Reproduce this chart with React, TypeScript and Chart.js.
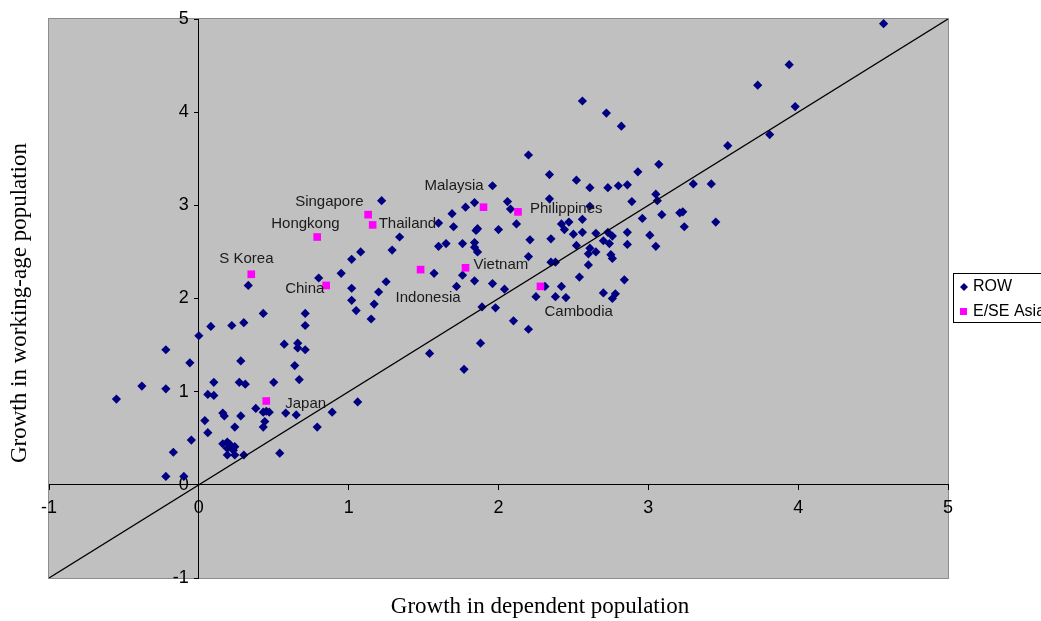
import React, { useEffect, useRef } from "react";
import { Chart, registerables } from "chart.js";

Chart.register(...registerables);

// ---- Data ----
const rowX = [
  -0.55, -0.38, -0.22, -0.22, -0.06, 0.0, -0.22, -0.1, -0.17, -0.05,
  0.08, 0.22, 0.3, 0.43, 0.71, 0.71, 0.33, 0.28, 0.57, 0.66,
  0.66, 0.71, 0.64, 0.67, 0.1, 0.27, 0.31, 0.5, 0.06, 0.1,
  0.38, 0.43, 0.45, 0.47, 0.58, 0.65, 0.89, 0.16, 0.17, 0.28,
  0.04, 0.44, 0.43, 0.24, 0.79, 0.06, 0.16, 0.19, 0.21, 0.24,
  0.19, 0.23, 0.19, 0.24, 0.3, 0.54, 1.22, 1.34, 1.6, 1.69,
  1.78, 1.84, 1.7, 1.86, 1.85, 1.29, 1.08, 1.02, 1.6, 1.65,
  1.76, 1.84, 1.84, 1.86, 1.57, 1.76, 1.84, 1.72, 0.95, 0.8,
  1.02, 1.25, 1.2, 1.02, 1.17, 1.05, 1.15, 1.89, 1.88, 1.54,
  1.77, 1.06, 2.2, 2.34, 2.52, 2.93, 3.07, 2.61, 2.73, 2.8,
  2.86, 1.96, 2.34, 2.89, 3.05, 3.06, 2.06, 2.08, 2.12, 2.0,
  2.42, 2.47, 2.44, 2.56, 2.96, 3.09, 2.5, 2.56, 2.65, 2.73,
  2.76, 2.86, 3.01, 2.21, 2.35, 2.52, 2.7, 2.74, 2.86, 3.05,
  2.61, 2.65, 2.6, 2.75, 2.76, 2.2, 2.35, 2.38, 2.6, 1.96,
  2.04, 1.98, 2.31, 2.42, 2.25, 2.38, 2.45, 2.54, 2.7, 2.78,
  2.76, 2.84, 2.1, 2.2, 2.56, 2.72, 2.82, 3.73, 3.94, 3.98,
  3.81, 3.53, 3.3, 3.42, 3.21, 3.23, 3.24, 3.45, 2.61, 4.57,
];
const rowY = [
  0.92, 1.06, 1.03, 1.45, 1.31, 1.6, 0.09, 0.09, 0.35, 0.48,
  1.7, 1.71, 1.74, 1.84, 1.84, 1.71, 2.14, 1.33, 1.51, 1.52,
  1.47, 1.45, 1.28, 1.13, 1.1, 1.1, 1.08, 1.1, 0.97, 0.96,
  0.82, 0.78, 0.79, 0.78, 0.77, 0.75, 0.78, 0.77, 0.74, 0.74,
  0.69, 0.68, 0.62, 0.62, 0.62, 0.56, 0.44, 0.46, 0.43, 0.41,
  0.39, 0.37, 0.32, 0.32, 0.32, 0.34, 3.05, 2.66, 2.81, 2.91,
  2.98, 3.03, 2.77, 2.75, 2.73, 2.52, 2.5, 2.42, 2.56, 2.59,
  2.59, 2.6, 2.55, 2.5, 2.27, 2.25, 2.19, 2.13, 2.27, 2.22,
  2.11, 2.18, 2.07, 1.98, 1.94, 1.87, 1.78, 1.91, 1.52, 1.41,
  1.24, 0.89, 3.54, 3.33, 3.27, 3.36, 3.44, 3.19, 3.19, 3.21,
  3.22, 3.21, 3.07, 3.04, 3.12, 3.05, 3.04, 2.96, 2.8, 2.74,
  2.8, 2.82, 2.74, 2.85, 2.86, 2.9, 2.69, 2.71, 2.7, 2.71,
  2.67, 2.71, 2.68, 2.63, 2.64, 2.57, 2.62, 2.59, 2.58, 2.56,
  2.54, 2.5, 2.48, 2.47, 2.43, 2.45, 2.39, 2.39, 2.36, 2.16,
  2.1, 1.9, 2.13, 2.13, 2.02, 2.02, 2.01, 2.23, 2.06, 2.05,
  2.0, 2.2, 1.76, 1.67, 4.12, 3.99, 3.85, 4.29, 4.51, 4.06,
  3.76, 3.64, 3.23, 3.23, 2.92, 2.93, 2.77, 2.82, 2.99, 4.95,
];

const asiaNames = [
  "Singapore", "Thailand", "Hongkong", "S Korea", "China", "Indonesia",
  "Vietnam", "Malaysia", "Philippines", "Cambodia", "Japan",
];
const asiaX = [1.13, 1.16, 0.79, 0.35, 0.85, 1.48, 1.78, 1.9, 2.13, 2.28, 0.45];
const asiaY = [2.9, 2.79, 2.66, 2.26, 2.14, 2.31, 2.33, 2.98, 2.93, 2.13, 0.9];

const diagonalX = [-1, 5];
const axisMin = -1;
const axisMax = 5;

const seriesNames = ["ROW", "E/SE Asia"];
const xTitle = "Growth in dependent population";
const yTitle = "Growth in working-age population";

// label offsets (px) from each E/SE Asia marker: [dx to text left, dy to text middle]
const labelOffsets: Record<string, [number, number]> = {
  Singapore: [-73, -13],
  Thailand: [6, -1],
  Hongkong: [-46, -13],
  "S Korea": [-32, -15],
  China: [-41, 3],
  Indonesia: [-25, 28],
  Vietnam: [8, -3],
  Malaysia: [-59, -21],
  Philippines: [12, -3],
  Cambodia: [4, 25],
  Japan: [19, 3],
};

const NAVY = "#000080";
const MAGENTA = "#ff00ff";
const SANS = '"Liberation Sans", Arial, sans-serif';
const SERIF = '"Liberation Serif", "Times New Roman", serif';

export default function App() {
  const canvasRef = useRef<HTMLCanvasElement | null>(null);

  useEffect(() => {
    const canvas = canvasRef.current;
    if (!canvas) return;

    const plotBackground = {
      id: "plotBackground",
      beforeDraw(chart: any) {
        const { ctx, chartArea } = chart;
        const { left, top, right, bottom } = chartArea;
        ctx.save();
        ctx.fillStyle = "#c0c0c0";
        ctx.fillRect(left, top, right - left, bottom - top);
        ctx.strokeStyle = "#8c8c8c";
        ctx.lineWidth = 1;
        ctx.strokeRect(left - 0.5, top - 0.5, right - left + 1, bottom - top + 1);
        ctx.restore();
      },
    };

    const annotations = {
      id: "annotations",
      afterDatasetsDraw(chart: any) {
        const { ctx, scales } = chart;
        ctx.save();
        ctx.font = `15px ${SANS}`;
        ctx.fillStyle = "#1a1a1a";
        ctx.textAlign = "left";
        ctx.textBaseline = "middle";
        asiaNames.forEach((name, i) => {
          const px = scales.x.getPixelForValue(asiaX[i]);
          const py = scales.y.getPixelForValue(asiaY[i]);
          const [dx, dy] = labelOffsets[name] || [6, 0];
          ctx.fillText(name, px + dx, py + dy);
        });
        ctx.restore();
      },
      afterDraw(chart: any) {
        const { ctx } = chart;
        ctx.save();
        // axis titles
        ctx.fillStyle = "#000";
        ctx.font = `23px ${SERIF}`;
        ctx.textAlign = "center";
        ctx.textBaseline = "middle";
        ctx.fillText(xTitle, 540, 607);
        ctx.translate(20, 303);
        ctx.rotate(-Math.PI / 2);
        ctx.fillText(yTitle, 0, 0);
        ctx.restore();

        // legend
        ctx.save();
        ctx.fillStyle = "#ffffff";
        ctx.fillRect(953.5, 273.5, 200, 49);
        ctx.strokeStyle = "#000";
        ctx.lineWidth = 1;
        ctx.strokeRect(953.5, 273.5, 200, 49);
        // diamond
        ctx.fillStyle = NAVY;
        ctx.beginPath();
        ctx.moveTo(964, 283);
        ctx.lineTo(968, 287);
        ctx.lineTo(964, 291);
        ctx.lineTo(960, 287);
        ctx.closePath();
        ctx.fill();
        // square
        ctx.fillStyle = MAGENTA;
        ctx.fillRect(960, 308, 7, 7);
        ctx.fillStyle = "#000";
        ctx.font = `16px ${SANS}`;
        ctx.textAlign = "left";
        ctx.textBaseline = "middle";
        ctx.fillText(seriesNames[0], 973, 287);
        ctx.fillText(seriesNames[1], 973, 312);
        ctx.restore();
      },
    };

    const chart = new Chart(canvas, {
      type: "scatter",
      data: {
        datasets: [
          {
            label: "diagonal",
            data: diagonalX.map((v) => ({ x: v, y: v })),
            showLine: true,
            borderColor: "#000",
            borderWidth: 1.3,
            pointRadius: 0,
            order: 0,
          } as any,
          {
            label: seriesNames[1],
            data: asiaX.map((v, i) => ({ x: v, y: asiaY[i] })),
            pointStyle: "rect",
            pointRadius: 5.4,
            backgroundColor: MAGENTA,
            borderColor: MAGENTA,
            borderWidth: 0,
            order: 1,
          },
          {
            label: seriesNames[0],
            data: rowX.map((v, i) => ({ x: v, y: rowY[i] })),
            pointStyle: "rectRot",
            pointRadius: 4.6,
            backgroundColor: NAVY,
            borderColor: NAVY,
            borderWidth: 0,
            order: 2,
          },
        ],
      },
      options: {
        responsive: false,
        animation: false,
        events: [],
        layout: { padding: { left: 49, top: 19, right: 93, bottom: 43 } },
        plugins: {
          legend: { display: false },
          tooltip: { enabled: false },
        },
        scales: {
          x: {
            type: "linear",
            min: axisMin,
            max: axisMax,
            position: { y: 0 } as any,
            ticks: {
              stepSize: 1,
              color: "#000",
              padding: 7,
              font: { size: 18, family: SANS },
            },
            grid: {
              display: true,
              drawOnChartArea: false,
              drawTicks: true,
              tickLength: 5,
              tickColor: "#000",
            },
            border: { display: true, color: "#000", width: 1 },
          },
          y: {
            type: "linear",
            min: axisMin,
            max: axisMax,
            position: { x: 0 } as any,
            ticks: {
              stepSize: 1,
              color: "#000",
              padding: 8,
              font: { size: 18, family: SANS },
              // labels of a value-positioned y axis sit right on the axis line; pad them off it
              callback: (value: any) => `${value}  `,
            },
            grid: {
              display: true,
              drawOnChartArea: false,
              drawTicks: true,
              tickLength: 4,
              tickColor: "#000",
            },
            border: { display: true, color: "#000", width: 1 },
          },
        },
      },
      plugins: [plotBackground, annotations],
    });

    return () => chart.destroy();
  }, []);

  return (
    <div style={{ position: "absolute", left: 0, top: 0, width: 1041, height: 621, background: "#fff" }}>
      <canvas ref={canvasRef} width={1041} height={621} style={{ display: "block" }} />
    </div>
  );
}
